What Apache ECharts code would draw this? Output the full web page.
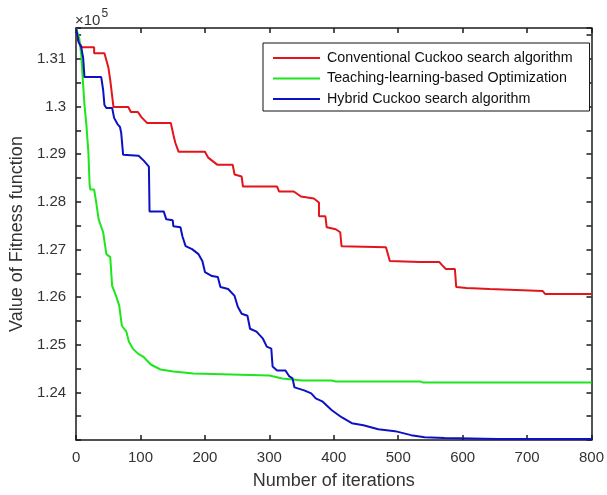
<!DOCTYPE html>
<html>
<head>
<meta charset="utf-8">
<script src="https://cdn.jsdelivr.net/npm/echarts@6/dist/echarts.min.js"></script>
<style>
  html, body { margin: 0; padding: 0; background: #fff; }
  #chart { width: 607px; height: 495px; }
</style>
</head>
<body>
<div id="chart"></div>
<script>
// [iteration, fitness]
const conventionalCS = [
  [0, 131642], [3, 131391], [9, 131245], [28, 131245], [28, 131120], [44, 131120],
  [50, 130828], [53, 130556], [58, 129993], [81, 129993], [85, 129888], [96, 129888],
  [101, 129784], [110, 129658], [147, 129658], [151, 129408], [154, 129241],
  [159, 129053], [200, 129053], [205, 128928], [219, 128781], [243, 128781],
  [246, 128573], [257, 128531], [259, 128322], [312, 128322], [315, 128218],
  [338, 128218], [349, 128113], [369, 128072], [377, 127988], [377, 127696],
  [387, 127696], [389, 127466], [403, 127424], [410, 127362], [412, 127069],
  [481, 127048], [487, 126756], [533, 126735], [564, 126735], [568, 126672],
  [574, 126589], [588, 126589], [590, 126213], [606, 126192], [642, 126171],
  [645, 126130], [724, 126130], [728, 126067], [800, 126067]
];
const tlbo = [
  [0, 131642], [5, 131433], [8, 131078], [11, 130452], [13, 130034], [16, 129617],
  [19, 129053], [21, 128364], [22, 128260], [28, 128260], [31, 128009], [35, 127633],
  [42, 127362], [47, 126902], [53, 126840], [56, 126234], [62, 126025], [67, 125817],
  [71, 125399], [78, 125274], [82, 125065], [88, 124919], [96, 124814], [104, 124752],
  [116, 124585], [131, 124480], [151, 124438], [182, 124397], [300, 124355],
  [320, 124292], [351, 124250], [397, 124250], [403, 124230], [534, 124230],
  [538, 124209], [800, 124209]
];
const hybridCS = [
  [0, 131642], [4, 131350], [8, 131245], [11, 131016], [13, 130619], [39, 130619],
  [42, 130348], [44, 130034], [47, 129972], [56, 129972], [59, 129763], [64, 129638],
  [68, 129575], [70, 129450], [73, 128990], [97, 128969], [105, 128865], [113, 128740],
  [114, 127800], [136, 127800], [140, 127633], [150, 127612], [151, 127487],
  [162, 127466], [165, 127278], [170, 127070], [180, 127007], [190, 126902],
  [196, 126756], [200, 126526], [211, 126443], [220, 126422], [224, 126213],
  [236, 126171], [246, 126025], [251, 125796], [257, 125650], [266, 125608],
  [270, 125336], [280, 125274], [290, 125127], [296, 124960], [303, 124919],
  [305, 124543], [312, 124459], [325, 124459], [331, 124334], [336, 124292],
  [339, 124104], [354, 124042], [365, 123979], [372, 123875], [382, 123812],
  [397, 123624], [412, 123478], [428, 123353], [446, 123311], [469, 123227],
  [495, 123186], [520, 123102], [541, 123060], [572, 123040], [654, 123020],
  [800, 123020]
];
const seriesNames = [
  'Conventional Cuckoo search algorithm',
  'Teaching-learning-based Optimization',
  'Hybrid Cuckoo search algorithm'
];
// y tick labels shown (in units of 1e5), ticks every 500
const yLabelFirst = 124000;
const yLabelLast = 131000;

const font = 'Liberation Sans, Arial, sans-serif';
const axisColor = '#1a1a1a';

var myChart = echarts.init(document.getElementById('chart'));

function yAxisBase(pos) {
  return {
    type: 'value',
    position: pos,
    min: 123000,
    max: 131650,
    interval: 500,
    splitLine: { show: false },
    axisLine: { show: true, onZero: false, lineStyle: { color: axisColor, width: 1.5 } },
    axisTick: { show: true, inside: true, length: 5, lineStyle: { color: axisColor, width: 1.5 } },
  };
}
function xAxisBase(pos) {
  return {
    type: 'value',
    position: pos,
    min: 0,
    max: 800,
    interval: 100,
    splitLine: { show: false },
    axisLine: { show: true, onZero: false, lineStyle: { color: axisColor, width: 1.5 } },
    axisTick: { show: true, inside: true, length: 5, lineStyle: { color: axisColor, width: 1.5 } },
  };
}

var option = {
  animation: false,
  backgroundColor: '#fff',
  grid: { left: 74.5, right: 11.5, top: 28, bottom: 54 },
  legend: {
    orient: 'vertical',
    left: 263,
    top: 43,
    data: seriesNames,
    icon: 'rect',
    itemWidth: 47,
    itemHeight: 2,
    itemGap: 6.5,
    padding: [8, 17, 5, 10],
    backgroundColor: '#fff',
    borderColor: '#111',
    borderWidth: 1,
    textStyle: { fontFamily: font, fontSize: 14.3, color: '#111', lineHeight: 14, padding: [0, 0, 0, 2] },
  },
  graphic: [{
    type: 'text',
    left: 75,
    top: 8,
    style: {
      text: '{a|×10}{b|5}',
      rich: {
        a: { fontFamily: font, fontSize: 15, fill: '#333', verticalAlign: 'bottom', lineHeight: 20 },
        b: { fontFamily: font, fontSize: 12, fill: '#333', verticalAlign: 'top', lineHeight: 20, padding: [0, 0, 6, 1] },
      },
    },
  }],
  xAxis: [
    Object.assign(xAxisBase('bottom'), {
      name: 'Number of iterations',
      nameLocation: 'middle',
      nameGap: 32,
      nameTextStyle: { fontFamily: font, fontSize: 18, color: '#333' },
      axisLabel: { fontFamily: font, fontSize: 15, color: '#333', margin: 10 },
    }),
    Object.assign(xAxisBase('top'), { axisLabel: { show: false } }),
  ],
  yAxis: [
    Object.assign(yAxisBase('left'), {
      name: 'Value of Fitness function',
      nameLocation: 'middle',
      nameGap: 44,
      nameTextStyle: { fontFamily: font, fontSize: 18, color: '#333' },
      axisLabel: {
        fontFamily: font, fontSize: 15, color: '#333', margin: 10,
        showMinLabel: true, showMaxLabel: true,
        formatter: function(v) {
          if (v % 1000 !== 0 || v < yLabelFirst || v > yLabelLast) return '';
          return parseFloat((v / 1e5).toFixed(2)).toString();
        },
      },
    }),
    Object.assign(yAxisBase('right'), { axisLabel: { show: false } }),
  ],
  series: [
    { name: seriesNames[0], type: 'line', data: conventionalCS, color: '#e3141b' },
    { name: seriesNames[1], type: 'line', data: tlbo, color: '#1ee61e' },
    { name: seriesNames[2], type: 'line', data: hybridCS, color: '#0c12c2' },
  ].map(function(s) {
    return Object.assign(s, {
      showSymbol: false,
      symbol: 'none',
      lineStyle: { width: 2, color: s.color },
      clip: true,
    });
  }),
};

myChart.setOption(option);
</script>
</body>
</html>
